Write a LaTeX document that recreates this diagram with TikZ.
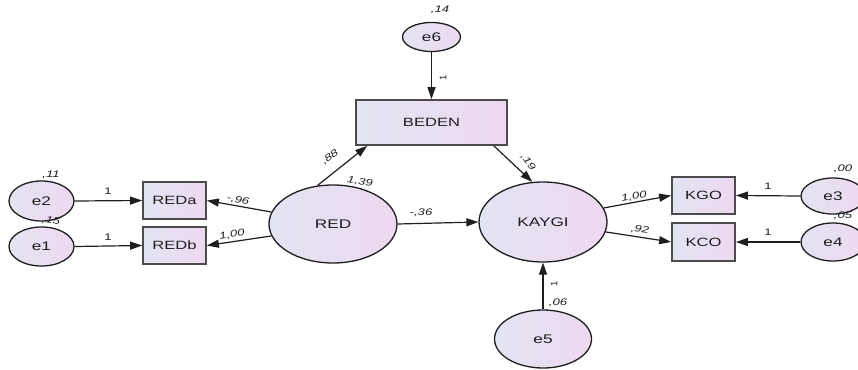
\documentclass[tikz,border=0pt]{standalone}
\usepackage{fontspec}
\setmainfont{Liberation Sans}
\usetikzlibrary{shapes.geometric,arrows.meta}
\definecolor{fillL}{RGB}{226,228,242}
\definecolor{fillR}{RGB}{238,216,240}
\definecolor{ink}{RGB}{30,30,30}
\newcommand\wide[1]{\scalebox{1.38}[1]{#1}}
\tikzset{
  lat/.style={ellipse, draw=ink, line width=1.3pt, inner sep=0pt, left color=fillL, right color=fillR, font=\fontsize{12.5}{14}\selectfont, text=ink},
  obs/.style={rectangle, draw=ink!80, line width=1.8pt, inner sep=0pt, left color=fillL, right color=fillR, font=\fontsize{12}{14}\selectfont, text=ink},
  path/.style={draw=ink, line width=1.2pt, -{Triangle[length=12pt,width=8pt]}},
  lbl/.style={font=\fontsize{9.5}{11}\selectfont\itshape, text=ink, inner sep=0pt},
  lblu/.style={font=\fontsize{9.5}{11}\selectfont, text=ink, inner sep=0pt},
}
\begin{document}
\begin{tikzpicture}[x=1pt,y=-1pt]
\useasboundingbox (0,0) rectangle (858,369);
% nodes
\node[lat, minimum width=58, minimum height=29] (e6) at (431.5,37) {\wide{e6}};
\node[obs, minimum width=151, minimum height=45] (BEDEN) at (431.5,122.5) {\wide{BEDEN}};
\node[lat, minimum width=128, minimum height=78] (RED) at (333,224) {\wide{RED}};
\node[lat, minimum width=128, minimum height=80] (KAYGI) at (543,222) {\wide{KAYGI}};
\node[obs, minimum width=63, minimum height=37] (REDa) at (174.5,200.5) {\wide{REDa}};
\node[obs, minimum width=63, minimum height=37] (REDb) at (174.5,245.5) {\wide{REDb}};
\node[lat, minimum width=65, minimum height=40] (e2) at (41.5,201) {\wide{e2}};
\node[lat, minimum width=65, minimum height=39] (e1) at (41.5,246.5) {\wide{e1}};
\node[obs, minimum width=63, minimum height=37] (KGO) at (703.5,195.5) {\wide{KGO}};
\node[obs, minimum width=63, minimum height=38] (KCO) at (703.5,242) {\wide{KCO}};
\node[lat, minimum width=64, minimum height=36] (e3) at (833,196) {\wide{e3}};
\node[lat, minimum width=64, minimum height=38] (e4) at (833,242) {\wide{e4}};
\node[lat, minimum width=97, minimum height=58] (e5) at (543,339) {\wide{e5}};
% paths
\draw[path] (e6.south) -- (BEDEN.north);
\draw[path] (e2.east) -- (REDa.west);
\draw[path] (e1.east) -- (REDb.west);
\draw[path] (RED.169) -- (REDa.east);
\draw[path] (RED.191) -- (REDb.east);
\draw[path] (RED.112) -- ([xshift=12pt]BEDEN.south west);
\draw[path] ([xshift=-14pt]BEDEN.south east) -- (KAYGI.105);
\draw[path] (RED.east) -- (KAYGI.west);
\draw[path] (KAYGI.13) -- (KGO.west);
\draw[path] (KAYGI.-9) -- (KCO.west);
\draw[path] (e3.west) -- (KGO.east);
\draw[path] (e4.west) -- (KCO.east);
\draw[path] (e5.north) -- (KAYGI.south);
% labels
\node[lbl] (l14) at (440,10) {\wide{,14}};
\node[lblu, rotate=90] (l1a) at (443,78) {1};
\node[lbl] (l11) at (51,175) {\wide{,11}};
\node[lbl, rotate=-10] (l15) at (51,221) {\wide{,15}};
\node[lblu] (l1b) at (108,191) {\wide{1}};
\node[lblu] (l1c) at (108,237) {\wide{1}};
\node[lbl, rotate=-10] (l96) at (238,200) {\wide{-,96}};
\node[lbl, rotate=10] (l100a) at (232,235) {\wide{1,00}};
\node[lbl, rotate=38] (l88) at (330,157) {\wide{,88}};
\node[lbl, rotate=-8] (l139) at (360,182) {\wide{1,39}};
\node[lbl] (l36) at (421,213) {\wide{-,36}};
\node[lbl, rotate=-52] (l19) at (528,162) {\wide{,19}};
\node[lbl, rotate=10] (l100b) at (634,197) {\wide{1,00}};
\node[lbl, rotate=-8] (l92) at (640,230) {\wide{,92}};
\node[lblu] (l1d) at (768,186) {\wide{1}};
\node[lblu] (l1e) at (768,232) {\wide{1}};
\node[lbl] (l00) at (843,169) {\wide{,00}};
\node[lbl] (l05) at (843,216) {\wide{,05}};
\node[lblu, rotate=90] (l1f) at (554,284) {1};
\node[lbl] (l06) at (558,303) {\wide{,06}};
\end{tikzpicture}
\end{document}
